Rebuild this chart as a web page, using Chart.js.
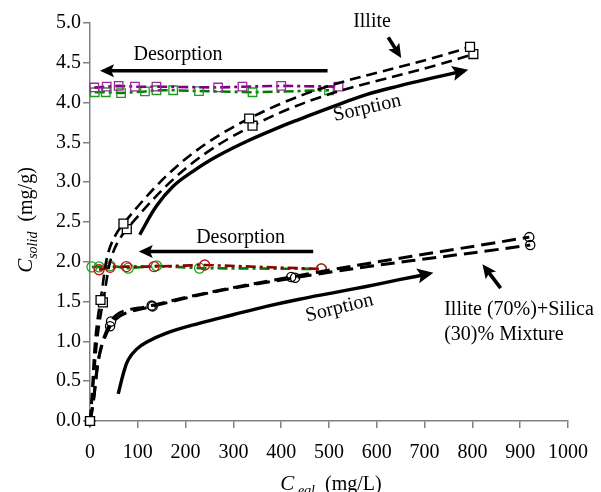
<!DOCTYPE html>
<html><head><meta charset="utf-8">
<script src="https://cdn.jsdelivr.net/npm/chart.js@4.4.1/dist/chart.umd.min.js"></script>
<style>html,body{margin:0;padding:0;background:#fff}#wrap{width:601px;height:492px;position:relative}</style>
</head><body><div id="wrap"><canvas id="c" width="601" height="492"></canvas></div>
<script>
// ---- tick labels ----
const X_TICKS = [0,100,200,300,400,500,600,700,800,900,1000];
const Y_TICKS = [0,0.5,1.0,1.5,2.0,2.5,3.0,3.5,4.0,4.5,5.0];

// ---- Illite sorption (two replicates, open squares) ----
const illiteSorpA_x = [0, 22, 70, 333, 795];
const illiteSorpA_y = [0, 1.52, 2.48, 3.80, 4.70];
const illiteSorpB_x = [0, 27, 77, 340, 802];
const illiteSorpB_y = [0, 1.49, 2.41, 3.71, 4.61];

// ---- Illite desorption ----
const illiteDesP_x = [9, 35, 60, 94, 139, 268, 319, 400, 520];
const illiteDesP_y = [4.19, 4.20, 4.21, 4.20, 4.20, 4.19, 4.20, 4.21, 4.20];
const illiteDesG_x = [10, 33, 65, 115, 139, 174, 228, 340, 500];
const illiteDesG_y = [4.13, 4.13, 4.12, 4.14, 4.155, 4.155, 4.145, 4.13, 4.155];

// ---- Mixture sorption (two replicates, open circles) ----
const mixSorpA_x = [0, 44, 129, 421, 919];
const mixSorpA_y = [0, 1.25, 1.45, 1.81, 2.31];
const mixSorpB_x = [0, 42, 131, 429, 921];
const mixSorpB_y = [0, 1.19, 1.44, 1.80, 2.21];

// ---- Mixture desorption ----
const mixDesR_x = [19, 42, 76, 134, 240, 484];
const mixDesR_y = [1.90, 1.93, 1.94, 1.94, 1.96, 1.91];
const mixDesG_x = [4, 19, 42, 80, 139, 229, 484];
const mixDesG_y = [1.935, 1.935, 1.95, 1.92, 1.95, 1.92, 1.91];

// ---- Sorption trend arrows (solid curves) ----
const illiteFit_x = [104, 139, 174, 216, 264, 334, 404, 438, 508, 578, 647, 717, 783];
const illiteFit_y = [2.34, 2.70, 2.95, 3.14, 3.32, 3.53, 3.71, 3.79, 3.95, 4.10, 4.21, 4.31, 4.40];
const mixFit_x = [59, 70, 80, 97, 118, 160, 230, 299, 369, 438, 508, 578, 647, 710];
const mixFit_y = [0.34, 0.60, 0.77, 0.90, 0.99, 1.105, 1.23, 1.335, 1.44, 1.53, 1.61, 1.69, 1.775, 1.85];

// ---- annotations (data coordinates) ----
const annotTexts = [
  {t:'Desorption', x:184, y:4.60, rot:0, align:'center'},
  {t:'Desorption', x:315, y:2.30, rot:0, align:'center'},
  {t:'Illite', x:590, y:5.02, rot:0, align:'center'},
  {t:'Sorption', x:580, y:3.93, rot:-13, align:'center'},
  {t:'Sorption', x:522, y:1.42, rot:-14, align:'center'},
  {t:'Illite (70%)+Silica', x:741, y:1.40, rot:0, align:'left'},
  {t:'(30)% Mixture', x:741, y:1.085, rot:0, align:'left'}
];
const annotArrows = [
  {fx:497, fy:4.40, tx:21, ty:4.40},
  {fx:467, fy:2.13, tx:102, ty:2.13},
  {fx:624, fy:4.82, tx:651, ty:4.56},
  {fx:859, fy:1.67, tx:821, ty:1.97}
];

const FONT = "'Liberation Serif', 'Times New Roman', serif";
const pts = (xs, ys) => xs.map((x, i) => ({x, y: ys[i]}));

function ds(label, xs, ys, o) {
  return Object.assign({
    label, data: pts(xs, ys), showLine: true, clip: false,
    borderColor: '#000', borderWidth: 3, tension: 0.4,
    pointRadius: 0, pointBorderWidth: 1.3, pointBackgroundColor: 'rgba(0,0,0,0)'
  }, o);
}

const datasets = [
  ds('Illite sorption A', illiteSorpA_x, illiteSorpA_y, {borderDash:[11,6], borderWidth:2.6, pointStyle:'rect', pointRadius:6.3, pointBorderColor:'#000', pointBackgroundColor:'#fff'}),
  ds('Illite sorption B', illiteSorpB_x, illiteSorpB_y, {borderDash:[11,6], borderWidth:2.6, pointStyle:'rect', pointRadius:6.3, pointBorderColor:'#000', pointBackgroundColor:'#fff'}),
  ds('Illite desorption 1', illiteDesP_x, illiteDesP_y, {borderColor:'#800080', borderDash:[10,4,3,4], borderWidth:2.6, tension:0, pointStyle:'rect', pointRadius:6, pointBorderColor:'#9a2a9a'}),
  ds('Illite desorption 2', illiteDesG_x, illiteDesG_y, {borderColor:'#007a00', borderDash:[10,4,3,4], borderWidth:2.6, tension:0, pointStyle:'rect', pointRadius:6, pointBorderColor:'#1c9a1c'}),
  ds('Mixture sorption A', mixSorpA_x, mixSorpA_y, {borderDash:[14,7], borderWidth:3, pointStyle:'circle', pointRadius:4.6, pointBorderColor:'#000'}),
  ds('Mixture sorption B', mixSorpB_x, mixSorpB_y, {borderDash:[14,7], borderWidth:3, pointStyle:'circle', pointRadius:4.6, pointBorderColor:'#000'}),
  ds('Mixture desorption 1', mixDesR_x, mixDesR_y, {borderColor:'#8b0000', borderDash:[10,4,3,4], borderWidth:2.6, tension:0, pointStyle:'circle', pointRadius:5, pointBorderColor:'#c01010'}),
  ds('Mixture desorption 2', mixDesG_x, mixDesG_y, {borderColor:'#007a00', borderDash:[10,4,3,4], borderWidth:2.6, tension:0, pointStyle:'circle', pointRadius:5, pointBorderColor:'#22a022'}),
  ds('Illite sorption trend', illiteFit_x, illiteFit_y, {borderWidth:3.4, arrow:true}),
  ds('Mixture sorption trend', mixFit_x, mixFit_y, {borderWidth:3.4, arrow:true})
];

function arrowHead(ctx, x1, y1, x2, y2, len, half) {
  const a = Math.atan2(y2 - y1, x2 - x1);
  ctx.save();
  ctx.translate(x2, y2); ctx.rotate(a);
  ctx.beginPath(); ctx.moveTo(0, 0); ctx.lineTo(-len, -half); ctx.lineTo(-len*0.8, 0); ctx.lineTo(-len, half); ctx.closePath();
  ctx.fillStyle = '#000'; ctx.fill();
  ctx.restore();
}

function drawRich(ctx, parts, x, y, rot) {
  ctx.save();
  ctx.translate(x, y); ctx.rotate(rot);
  let w = 0;
  parts.forEach(p => { ctx.font = p.font; w += ctx.measureText(p.t).width; });
  let cx = -w / 2;
  ctx.textBaseline = 'alphabetic'; ctx.textAlign = 'left'; ctx.fillStyle = '#000';
  parts.forEach(p => { ctx.font = p.font; ctx.fillText(p.t, cx, p.dy || 0); cx += ctx.measureText(p.t).width; });
  ctx.restore();
}

const annotPlugin = {
  id: 'annot',
  afterDatasetsDraw(chart) {
    const ctx = chart.ctx, xs = chart.scales.x, ys = chart.scales.y;
    chart.data.datasets.forEach((d, i) => {
      if (!d.arrow) return;
      const m = chart.getDatasetMeta(i).data;
      const p1 = m[m.length - 2], p2 = m[m.length - 1];
      arrowHead(ctx, p1.x, p1.y, p2.x + 4, p2.y - 1, 16, 7.5);
    });
    annotArrows.forEach(a => {
      const x1 = xs.getPixelForValue(a.fx), y1 = ys.getPixelForValue(a.fy);
      const x2 = xs.getPixelForValue(a.tx), y2 = ys.getPixelForValue(a.ty);
      const ang = Math.atan2(y2 - y1, x2 - x1);
      ctx.save();
      ctx.strokeStyle = '#000'; ctx.lineWidth = 3.6; ctx.lineCap = 'butt';
      ctx.beginPath(); ctx.moveTo(x1, y1); ctx.lineTo(x2 - Math.cos(ang)*10, y2 - Math.sin(ang)*10); ctx.stroke();
      ctx.restore();
      arrowHead(ctx, x1, y1, x2, y2, 14, 6.5);
    });
    annotTexts.forEach(t => {
      ctx.save();
      ctx.translate(xs.getPixelForValue(t.x), ys.getPixelForValue(t.y));
      ctx.rotate(t.rot * Math.PI / 180);
      ctx.font = '20px ' + FONT; ctx.fillStyle = '#000';
      ctx.textAlign = t.align; ctx.textBaseline = 'middle';
      ctx.fillText(t.t, 0, 0);
      ctx.restore();
    });
    const ca = chart.chartArea;
    drawRich(ctx, [
      {t:'C', font:'italic 21px ' + FONT},
      {t:'solid', font:'italic 14px ' + FONT, dy:5},
      {t:'  (mg/g)', font:'20px ' + FONT}
    ], 32, 220, -Math.PI / 2);
    drawRich(ctx, [
      {t:'C', font:'italic 21px ' + FONT},
      {t:' eql', font:'italic 14px ' + FONT, dy:5},
      {t:'  (mg/L)', font:'20px ' + FONT}
    ], (ca.left + ca.right) / 2 + 2, 490, 0);
  }
};

const axisCommon = {
  type: 'linear',
  grid: {drawOnChartArea: false, drawTicks: true, tickLength: 7, color: '#808080', lineWidth: 1.5},
  border: {color: '#808080', width: 1.5},
  title: {display: false}
};

new Chart(document.getElementById('c'), {
  type: 'scatter',
  data: {datasets},
  options: {
    responsive: false, animation: false,
    layout: {padding: {top: 23, right: 32, bottom: 0, left: 0}},
    plugins: {legend: {display: false}, tooltip: {enabled: false}},
    scales: {
      x: Object.assign({}, axisCommon, {
        min: 0, max: 1000,
        afterBuildTicks: s => { s.ticks = X_TICKS.map(v => ({value: v})); },
        afterFit: s => { s.height = 71; },
        ticks: {color: '#000', font: {family: FONT, size: 20}, padding: 13, maxRotation: 0, callback: v => String(v)}
      }),
      y: Object.assign({}, axisCommon, {
        min: 0, max: 5,
        afterBuildTicks: s => { s.ticks = Y_TICKS.map(v => ({value: v})); },
        afterFit: s => { s.width = 90; },
        ticks: {color: '#000', font: {family: FONT, size: 20}, padding: 2, callback: v => Number(v).toFixed(1)}
      })
    }
  },
  plugins: [annotPlugin]
});
</script></body></html>
